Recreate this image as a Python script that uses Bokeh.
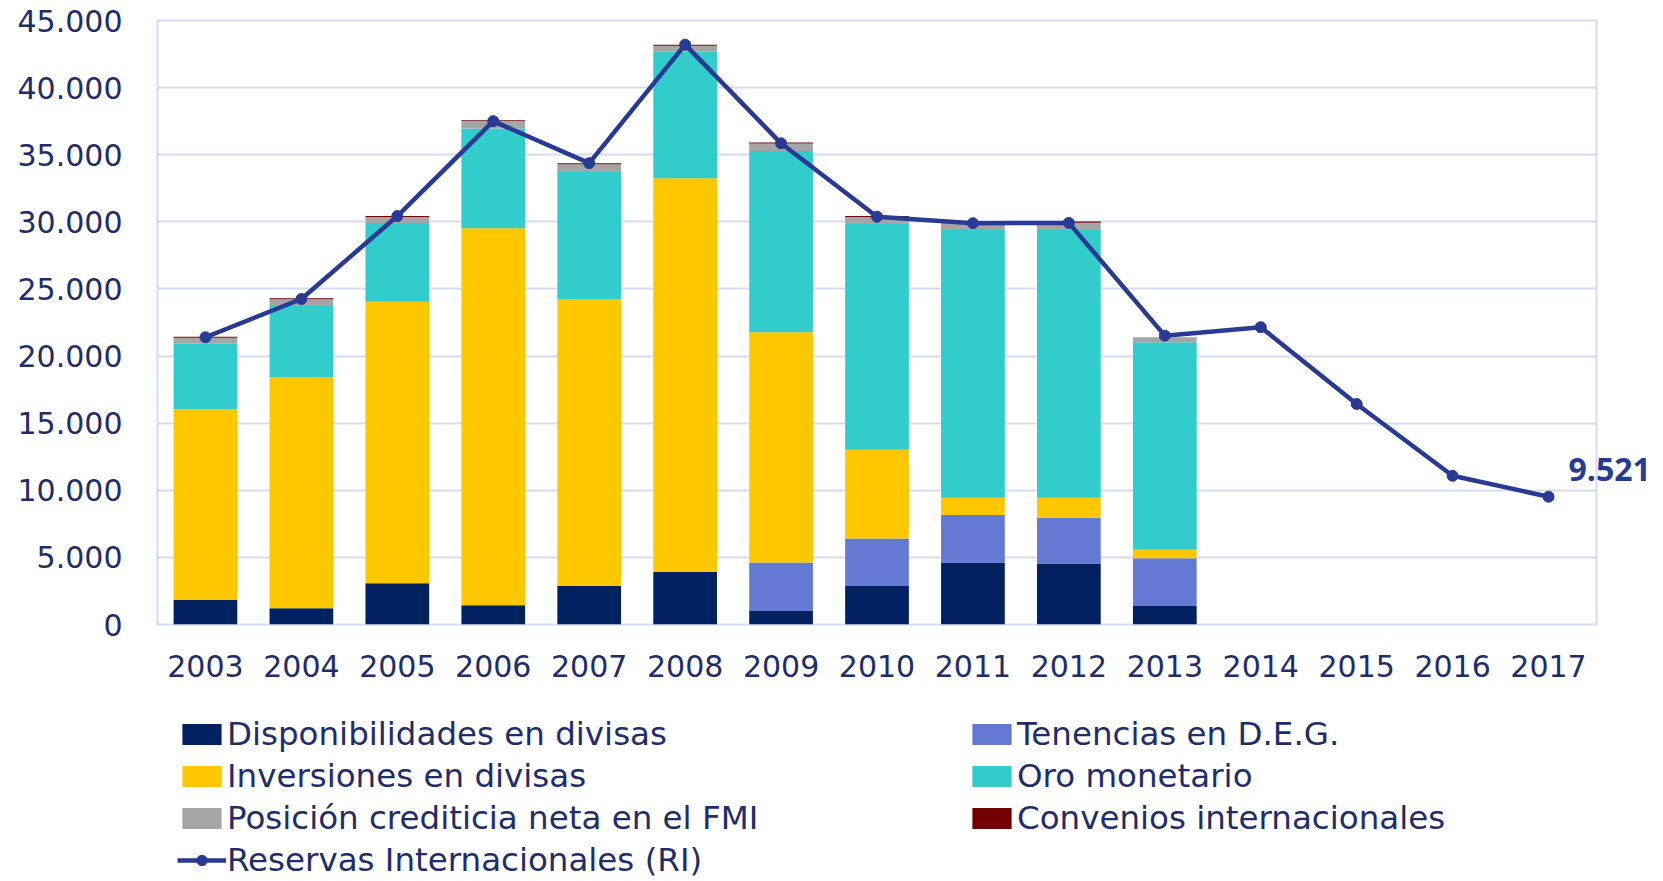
from bokeh.plotting import figure
from bokeh.layouts import column
from bokeh.models import (Range1d, FactorRange, FixedTicker, Legend, LegendItem, LinearAxis)
from bokeh.embed import file_html
from bokeh.resources import INLINE

years = ["2003", "2004", "2005", "2006", "2007", "2008", "2009", "2010",
         "2011", "2012", "2013", "2014", "2015", "2016", "2017"]

disponibilidades = [1830, 1210, 3070, 1430, 2870, 3920, 1010, 2870, 4610, 4540, 1380, 0, 0, 0, 0]
tenencias_deg = [0, 0, 0, 0, 0, 0, 3600, 3530, 3540, 3410, 3560, 0, 0, 0, 0]
inversiones = [14230, 17210, 20970, 28085, 21350, 29330, 17160, 6620, 1290, 1490, 620, 0, 0, 0, 0]
oro_monetario = [4850, 5300, 5870, 7440, 9500, 9425, 13510, 16815, 19950, 19950, 15470, 0, 0, 0, 0]
posicion_fmi = [450, 520, 450, 550, 575, 450, 550, 520, 480, 550, 370, 0, 0, 0, 0]
convenios = [70, 70, 70, 70, 75, 75, 75, 75, 20, 80, 0, 0, 0, 0, 0]
reservas = [21400, 24250, 30430, 37500, 34370, 43200, 35850, 30380, 29900, 29920,
            21520, 22150, 16430, 11080, 9521]

y_ticks = [0, 5000, 10000, 15000, 20000, 25000, 30000, 35000, 40000, 45000]

series_keys = ["disp", "deg", "inv", "oro", "fmi", "conv"]
series_names = ["Disponibilidades en divisas", "Tenencias en D.E.G.", "Inversiones en divisas",
                "Oro monetario", "Posición crediticia neta en el FMI", "Convenios internacionales"]
series_colors = ["#022160", "#6479D4", "#FFC700", "#33CCCC", "#A5A5A5", "#720000"]
line_name = "Reservas Internacionales (RI)"
line_color = "#283A93"
text_color = "#1F2D6B"
grid_color = "#D5DBF2"
FONT = "DejaVu Sans"
BOLD_FONT = "Open Sans"

Y_MAX = 45000
FRAME_H = 604
NAN = float("nan")


def fmt(v):
    return f"{v:,}".replace(",", ".")


data = {"years": years, "disp": disponibilidades, "deg": tenencias_deg, "inv": inversiones,
        "oro": oro_monetario, "fmi": posicion_fmi, "conv": convenios, "ri": reservas}

W = 1663
H_MAIN = 700
H_LEG = 181

p = figure(x_range=FactorRange(*years, range_padding=0, factor_padding=0),
           y_range=Range1d(0, Y_MAX),
           width=W, height=H_MAIN, output_backend="svg", toolbar_location=None,
           min_border_left=157, min_border_right=67, min_border_top=20,
           min_border_bottom=H_MAIN - 20 - FRAME_H)

bars = p.vbar_stack(series_keys, x="years", width=0.664, color=series_colors,
                    line_color=None, source=data)
ln = p.line(x="years", y="ri", line_color=line_color, line_width=4.5, source=data)
dots = p.scatter(x="years", y="ri", size=11, fill_color=line_color, line_color=line_color,
                 source=data)

p.outline_line_color = grid_color
p.outline_line_width = 2
p.background_fill_color = "white"
p.border_fill_color = "white"

p.xgrid.grid_line_color = None
p.ygrid.grid_line_color = grid_color
p.ygrid.grid_line_width = 2

p.yaxis.ticker = FixedTicker(ticks=y_ticks)
p.yaxis.major_label_overrides = {t: fmt(t) for t in y_ticks}
for ax in (p.xaxis[0], p.yaxis[0]):
    ax.axis_line_color = None
    ax.major_tick_line_color = None
    ax.minor_tick_line_color = None
    ax.major_tick_out = 0
    ax.major_label_text_font = FONT
    ax.major_label_text_font_size = "30px"
    ax.major_label_text_color = text_color
p.yaxis.major_label_standoff = 35
p.xaxis.major_label_standoff = 30

# value label for the last point: an axis on the right with one tick,
# its range shifted so the label sits ~26px above the point
shift = 27 * Y_MAX / FRAME_H
p.extra_y_ranges = {"lbl": Range1d(-shift, Y_MAX - shift)}
lab_axis = LinearAxis(y_range_name="lbl", ticker=FixedTicker(ticks=[reservas[-1]]),
                      major_label_overrides={reservas[-1]: fmt(reservas[-1])},
                      axis_line_color=None, major_tick_line_color=None,
                      minor_tick_line_color=None, major_tick_out=0,
                      major_label_standoff=-28,
                      major_label_text_font=BOLD_FONT, major_label_text_font_size="32px",
                      major_label_text_font_style="bold",
                      major_label_text_color=line_color)
p.add_layout(lab_axis, "right")

# legend in its own strip below the chart (proxy glyphs hold no visible data)
lf = figure(width=W, height=H_LEG, x_range=Range1d(0, 1), y_range=Range1d(0, 1),
            output_backend="svg", toolbar_location=None,
            x_axis_type=None, y_axis_type=None, min_border=0)
lf.outline_line_color = None
lf.grid.grid_line_color = None
proxy = {}
for k, c in zip(series_keys, series_colors):
    proxy[k] = lf.vbar(x=[NAN], top=[NAN], width=0.5, color=c, line_color=None)
pl = lf.line(x=[NAN], y=[NAN], line_color=line_color, line_width=4.5)
ps = lf.scatter(x=[NAN], y=[NAN], size=11, fill_color=line_color, line_color=line_color)

col1 = [LegendItem(label=series_names[0], renderers=[proxy["disp"]]),
        LegendItem(label=series_names[2], renderers=[proxy["inv"]]),
        LegendItem(label=series_names[4], renderers=[proxy["fmi"]]),
        LegendItem(label=line_name, renderers=[pl, ps])]
col2 = [LegendItem(label=series_names[1], renderers=[proxy["deg"]]),
        LegendItem(label=series_names[3], renderers=[proxy["oro"]]),
        LegendItem(label=series_names[5], renderers=[proxy["conv"]])]

PITCH = 42
TOP = 13
for items, vx in ((col1, 20), (col2, 810)):
    vy = H_LEG - TOP - PITCH * len(items)
    lg = Legend(items=items, location=(vx, vy), orientation="vertical",
                glyph_width=49, glyph_height=26, label_standoff=1, spacing=0,
                label_height=PITCH, padding=0, margin=0,
                label_text_font=FONT, label_text_font_size="32.5px",
                label_text_color=text_color, border_line_color=None,
                background_fill_alpha=0)
    lf.add_layout(lg)

layout = column(p, lf, spacing=0)
open("out.html", "w").write(file_html(layout, INLINE))
